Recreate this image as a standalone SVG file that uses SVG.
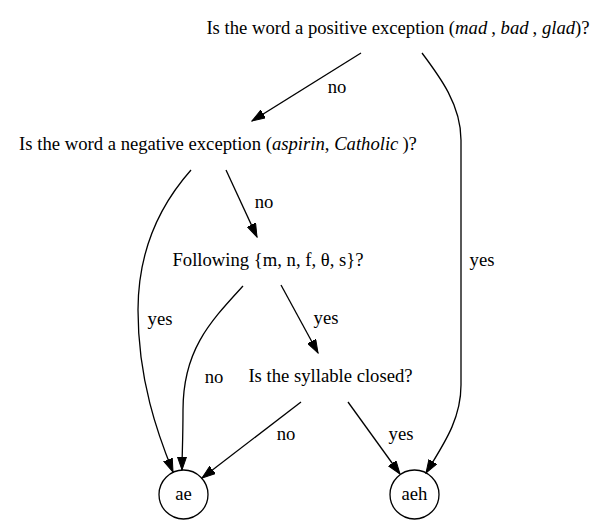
<svg xmlns="http://www.w3.org/2000/svg" width="605" height="523" viewBox="0 0 605 523">
<style>
text{font-family:"Liberation Serif","Times New Roman",serif;font-size:18.67px;fill:#000;text-anchor:middle}
.i{font-style:italic}
.e{fill:none;stroke:#000;stroke-width:1.3;marker-end:url(#ah)}
circle{fill:none;stroke:#000;stroke-width:1.3}
</style>
<defs>
<marker id="ah" markerUnits="userSpaceOnUse" markerWidth="14" markerHeight="10" viewBox="0 -5 14 10" refX="13.3" refY="0" orient="auto">
<path d="M0,-4.6 L13.3,0 L0,4.6 z" fill="#000" stroke="#000" stroke-width="1"/>
</marker>
</defs>
<rect width="605" height="523" fill="#fff"/>
<g id="edges">
<path class="e" d="M361,53 L252,121"/>
<text x="337" y="93">no</text>
<path class="e" d="M422,53 C440,77 461,105 461,140 L461,385 C461,420 443,445 426,473"/>
<text x="482" y="266">yes</text>
<path class="e" d="M191,170 C160,205 138,250 138,310 C138,380 158,435 173,472"/>
<text x="160" y="325">yes</text>
<path class="e" d="M226,170 L257,237"/>
<text x="264" y="208">no</text>
<path class="e" d="M243,286 C210,322 183,350 183,410 C183,440 182,455 182,470"/>
<text x="214" y="383">no</text>
<path class="e" d="M281,285 L318,353"/>
<text x="326" y="324">yes</text>
<path class="e" d="M301,402 L202,478"/>
<text x="286" y="440">no</text>
<path class="e" d="M348,402 L400,474"/>
<text x="401" y="440">yes</text>
</g>
<g id="n1"><text x="398" y="34">Is the word a positive exception (<tspan class="i">mad</tspan><tspan dx="4">,</tspan> <tspan class="i">bad</tspan><tspan dx="4">,</tspan> <tspan class="i">glad</tspan>)?</text></g>
<g id="n2"><text x="218" y="150">Is the word a negative exception (<tspan class="i">aspirin</tspan>, <tspan class="i">Catholic</tspan><tspan dx="4">)?</tspan></text></g>
<g id="n3"><text x="268" y="266">Following {m, n, f, θ, s}?</text></g>
<g id="n4"><text x="330.5" y="382">Is the syllable closed?</text></g>
<g id="ae"><circle cx="183.5" cy="494.5" r="24.5"/><text x="183.5" y="500">ae</text></g>
<g id="aeh"><circle cx="414.5" cy="494.5" r="24.5"/><text x="414.5" y="500">aeh</text></g>
</svg>
